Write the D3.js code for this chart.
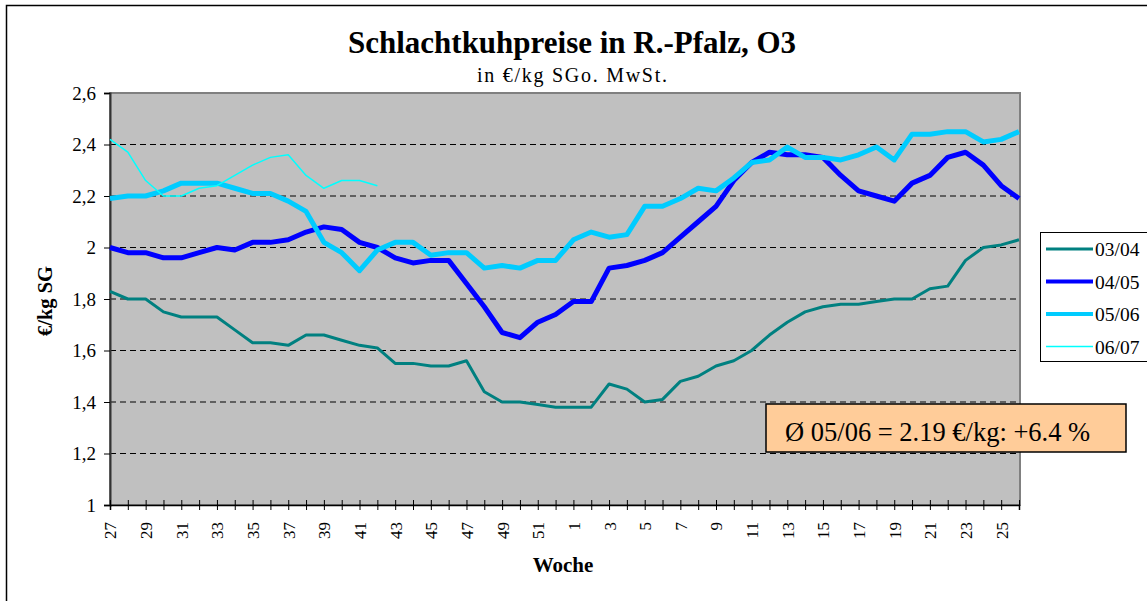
<!DOCTYPE html>
<html>
<head>
<meta charset="utf-8">
<script src="https://cdn.jsdelivr.net/npm/d3@7"></script>
<style>
  body { margin: 0; background: #fff; }
</style>
</head>
<body>
<svg id="chart"></svg>
<script>
// Kalenderwochen 27..52, 1..26
const weeks = d3.range(27, 53).concat(d3.range(1, 27))

const s0304 = [1.83, 1.80, 1.80, 1.75, 1.73, 1.73, 1.73, 1.68, 1.63, 1.63, 1.62, 1.66, 1.66, 1.64, 1.62, 1.61,
  1.55, 1.55, 1.54, 1.54, 1.56, 1.44, 1.40, 1.40, 1.39, 1.38, 1.38, 1.38, 1.47, 1.45, 1.40, 1.41,
  1.48, 1.50, 1.54, 1.56, 1.60, 1.66, 1.71, 1.75, 1.77, 1.78, 1.78, 1.79, 1.80, 1.80, 1.84, 1.85,
  1.95, 2.00, 2.01, 2.03]
const s0405 = [2.00, 1.98, 1.98, 1.96, 1.96, 1.98, 2.00, 1.99, 2.02, 2.02, 2.03, 2.06, 2.08, 2.07, 2.02, 2.00,
  1.96, 1.94, 1.95, 1.95, 1.86, 1.77, 1.67, 1.65, 1.71, 1.74, 1.79, 1.79, 1.92, 1.93, 1.95, 1.98,
  2.04, 2.10, 2.16, 2.26, 2.33, 2.37, 2.36, 2.36, 2.35, 2.28, 2.22, 2.20, 2.18, 2.25, 2.28, 2.35,
  2.37, 2.32, 2.24, 2.19]
const s0506 = [2.19, 2.20, 2.20, 2.22, 2.25, 2.25, 2.25, 2.23, 2.21, 2.21, 2.18, 2.14, 2.02, 1.98, 1.91, 1.99,
  2.02, 2.02, 1.97, 1.98, 1.98, 1.92, 1.93, 1.92, 1.95, 1.95, 2.03, 2.06, 2.04, 2.05, 2.16, 2.16,
  2.19, 2.23, 2.22, 2.27, 2.33, 2.34, 2.39, 2.35, 2.35, 2.34, 2.36, 2.39, 2.34, 2.44, 2.44, 2.45,
  2.45, 2.41, 2.42, 2.45]
const s0607 = [2.42, 2.37, 2.26, 2.20, 2.20, 2.23, 2.24, 2.28, 2.32, 2.35, 2.36, 2.28, 2.23, 2.26, 2.26, 2.24]

const seriesNames = ['03/04', '04/05', '05/06', '06/07']
const yTicks = [1, 1.2, 1.4, 1.6, 1.8, 2, 2.2, 2.4, 2.6]

const series = [
  { name: seriesNames[0], values: s0304, color: '#008080', width: 3 },
  { name: seriesNames[1], values: s0405, color: '#0000FF', width: 5 },
  { name: seriesNames[2], values: s0506, color: '#00CCFF', width: 5 },
  { name: seriesNames[3], values: s0607, color: '#00FFFF', width: 1.5 }
]

const FONT = '"Liberation Serif", "Times New Roman", "DejaVu Serif", serif'
const width = 1147, height = 601
const plot = { left: 110, right: 1020, top: 93, bottom: 505 }

const svg = d3.select('#chart').attr('width', width).attr('height', height)

// aeusserer Rahmen
svg.append('rect')
  .attr('x', 6.5).attr('y', 5.5).attr('width', width + 10).attr('height', height + 10)
  .attr('fill', 'none').attr('stroke', '#000').attr('stroke-width', 1.5)

let x = d3.scalePoint().domain(d3.range(weeks.length)).range([plot.left, plot.right - 1])
let y = d3.scaleLinear().domain([1, 2.6]).range([plot.bottom, plot.top])

// Plotflaeche
svg.append('rect')
  .attr('x', plot.left).attr('y', plot.top)
  .attr('width', plot.right - plot.left).attr('height', plot.bottom - plot.top)
  .attr('fill', '#C0C0C0').attr('stroke', '#808080').attr('stroke-width', 2)

// Gitterlinien
svg.append('g')
  .selectAll('line')
  .data(yTicks.filter(d => d > 1 && d < 2.6))
  .enter().append('line')
  .attr('x1', plot.left).attr('x2', plot.right)
  .attr('y1', d => y(d)).attr('y2', d => y(d))
  .attr('stroke', '#000').attr('stroke-width', 1)
  .attr('stroke-dasharray', '6,4')

// y-Achse
const yAxis = svg.append('g')
  .attr('transform', `translate(${plot.left},0)`)
  .call(d3.axisLeft(y).tickValues(yTicks).tickSize(6).tickPadding(8)
    .tickFormat(d => String(d).replace('.', ',')))
yAxis.select('.domain').attr('stroke', '#333').attr('stroke-width', 2)
yAxis.selectAll('text').style('font-size', '19px')

// x-Achse
const xAxis = svg.append('g')
  .attr('transform', `translate(0,${plot.bottom})`)
  .call(d3.axisBottom(x).tickSize(5).tickFormat(i => i % 2 === 0 ? weeks[i] : ''))
xAxis.select('.domain').attr('stroke', '#000').attr('stroke-width', 1.5)
xAxis.selectAll('.tick line').attr('y1', -5).attr('stroke', '#000')
xAxis.selectAll('text')
  .style('font-size', '17px')
  .attr('text-anchor', 'end')
  .attr('dy', '0.35em')
  .attr('transform', 'translate(0,17) rotate(-90)')
  .attr('y', 0).attr('x', 0)

// Linien
const line = d3.line().x((d, i) => x(i)).y(d => y(d))
svg.append('g')
  .selectAll('path')
  .data(series)
  .enter().append('path')
  .attr('d', d => line(d.values))
  .attr('fill', 'none')
  .attr('stroke', d => d.color)
  .attr('stroke-width', d => d.width)
  .attr('stroke-linejoin', 'round')

// Titel
svg.append('text').attr('x', 572).attr('y', 53)
  .attr('text-anchor', 'middle').style('font-size', '31px').style('font-weight', 'bold')
  .text('Schlachtkuhpreise in R.-Pfalz, O3')
svg.append('text').attr('x', 477).attr('y', 82)
  .attr('textLength', 190).attr('lengthAdjust', 'spacing')
  .style('font-size', '20px')
  .text('in €/kg SGo. MwSt.')

// Achsentitel
svg.append('text')
  .attr('transform', 'translate(52,301) rotate(-90)')
  .attr('text-anchor', 'middle').style('font-size', '20.5px').style('font-weight', 'bold')
  .text('€/kg SG')
svg.append('text').attr('x', 563).attr('y', 572)
  .attr('text-anchor', 'middle').style('font-size', '21px').style('font-weight', 'bold')
  .text('Woche')

// Legende
const legend = svg.append('g').attr('transform', 'translate(1040,232)')
legend.append('rect').attr('x', 0.5).attr('y', 0.5).attr('width', 120).attr('height', 129)
  .attr('fill', '#fff').attr('stroke', '#000')
series.forEach((s, i) => {
  const ly = 17 + i * 32.5
  legend.append('line').attr('x1', 6).attr('x2', 53).attr('y1', ly).attr('y2', ly)
    .attr('stroke', s.color).attr('stroke-width', Math.min(s.width, 4))
  legend.append('text').attr('x', 55).attr('y', ly + 7).style('font-size', '19.5px').text(s.name)
})

// Hinweisbox
svg.append('rect').attr('x', 766).attr('y', 404).attr('width', 360).attr('height', 48)
  .attr('fill', '#FFCC99').attr('stroke', '#000').attr('stroke-width', 1.5)
svg.append('text').attr('x', 785).attr('y', 441).style('font-size', '26.5px')
  .text('Ø 05/06 = 2.19 €/kg: +6.4 %')

svg.selectAll('text').style('font-family', FONT).attr('fill', '#000')
</script>
</body>
</html>
